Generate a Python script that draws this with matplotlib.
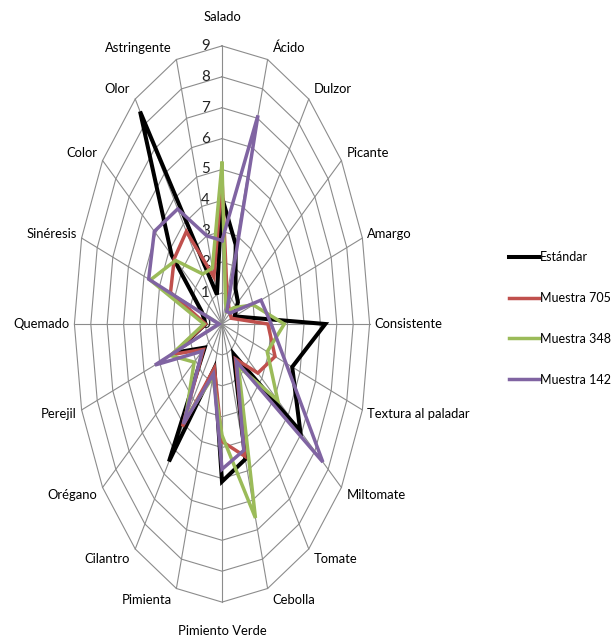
import numpy as np
import matplotlib
matplotlib.use("Agg")
import matplotlib.pyplot as plt
from matplotlib.lines import Line2D

plt.rcParams['font.family'] = ['Lato', 'DejaVu Sans']

categorias = ['Salado', 'Ácido', 'Dulzor', 'Picante', 'Amargo', 'Consistente',
              'Textura al paladar', 'Miltomate', 'Tomate', 'Cebolla',
              'Pimiento Verde', 'Pimienta', 'Cilantro', 'Orégano', 'Perejil',
              'Quemado', 'Sinéresis', 'Color', 'Olor', 'Astringente']

estandar = [4.1, 2.7, 1.4, 1.2, 0.8, 6.3, 4.5, 5.9, 1.2, 4.6,
            5.1, 1.5, 5.5, 1.3, 3.0, 1.0, 1.3, 3.8, 8.5, 1.0]
muestra_705 = [4.7, 1.0, 0.7, 0.6, 0.6, 2.8, 3.4, 2.7, 1.4, 4.5,
               3.8, 1.5, 4.1, 1.4, 3.2, 1.0, 3.3, 3.6, 3.7, 1.6]
muestra_348 = [5.2, 0.7, 0.5, 0.9, 2.0, 3.8, 2.9, 4.2, 1.7, 6.6,
               3.6, 1.8, 3.8, 2.1, 3.3, 1.1, 4.6, 3.5, 2.0, 1.9]
muestra_142 = [2.7, 7.1, 0.5, 0.6, 2.5, 3.0, 4.1, 7.6, 1.5, 4.3,
               4.7, 1.7, 4.0, 1.5, 4.3, 0.2, 4.7, 5.1, 4.6, 3.0]

series = ['Estándar', 'Muestra 705', 'Muestra 348', 'Muestra 142']
colores = ['#000000', '#C0504D', '#9BBB59', '#8064A2']
grosor = [2.9, 2.5, 2.5, 2.5]

W, H = 611, 643
cx, cy = 222, 324          # centre of the web, pixels
sx, sy = 16.4, 30.9        # pixels per unit, horizontal / vertical
rmax = 9
fs = 9.4

fig = plt.figure(figsize=(W / 100, H / 100), dpi=100)
ax = fig.add_axes([0, 0, 1, 1])
ax.set_xlim(-cx / sx, (W - cx) / sx)
ax.set_ylim(-(H - cy) / sy, cy / sy)
ax.axis('off')

n = len(categorias)
ang = np.arange(n) * 2 * np.pi / n
s, c = np.sin(ang), np.cos(ang)

# web: rings and spokes
for r in range(1, rmax + 1):
    ax.plot(np.append(r * s, 0), np.append(r * c, r), color='#8c8c8c', lw=0.8, zorder=1)
for i in range(n):
    ax.plot([0, rmax * s[i]], [0, rmax * c[i]], color='#8c8c8c', lw=0.8, zorder=1)

# radial scale along the top spoke
for r in range(0, rmax + 1):
    ax.text(-12 / sx, r, str(r), ha='right', va='center', fontsize=fs + 1.5, color='#222222')

# category labels
for i, nombre in enumerate(categorias):
    x0, y0 = rmax * s[i], rmax * c[i]
    if abs(s[i]) < 0.05:
        ax.text(x0, y0 + np.sign(c[i]) * 29 / sy, nombre, ha='center', va='center', fontsize=fs)
    else:
        ha = 'left' if s[i] > 0 else 'right'
        ax.text(x0 + np.sign(s[i]) * 5 / sx, y0 + 12 * c[i] / sy, nombre,
                ha=ha, va='center', fontsize=fs)

datos = [estandar, muestra_705, muestra_348, muestra_142]
for vals, col, lw, nom in zip(datos, colores, grosor, series):
    v = np.array(vals)
    ax.plot(np.append(v * s, v[0] * s[0]), np.append(v * c, v[0] * c[0]),
            color=col, lw=lw, solid_joinstyle='miter', label=nom, zorder=3)

handles = [Line2D([], [], color=col, lw=lw) for col, lw in zip(colores, grosor)]
fig.legend(handles, series, loc='center left', bbox_to_anchor=(509 / W, 1 - 318.5 / H),
           bbox_transform=fig.transFigure, frameon=False, fontsize=9,
           handlelength=2.4, handletextpad=0.05, labelspacing=2.3,
           borderpad=0, borderaxespad=0)

fig.savefig('out.png', dpi=100)
